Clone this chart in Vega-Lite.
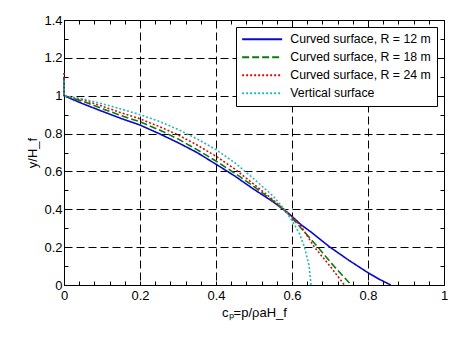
{
  "$schema": "https://vega.github.io/schema/vega-lite/v6.json",
  "width": 380,
  "height": 265,
  "autosize": {"type": "none"},
  "padding": {"left": 64, "top": 20, "right": 22, "bottom": 52},
  "background": "white",
  "config": {
    "view": {"stroke": "black", "strokeWidth": 1},
    "font": "Liberation Sans",
    "axis": {"labelFont": "Liberation Sans", "titleFont": "Liberation Sans", "labelColor": "black", "titleColor": "black", "domainColor": "black", "tickColor": "black", "titleFontWeight": "normal", "labelFontSize": 13, "titleFontSize": 13, "labelOverlap": false, "labelFlush": false}
  },
  "datasets": {
    "curves": [
      {"s": "Curved surface, R = 12 m", "i": 0, "x": 0, "y": 1.1},
      {"s": "Curved surface, R = 12 m", "i": 1, "x": 0, "y": 1.0},
      {"s": "Curved surface, R = 12 m", "i": 2, "x": 0.05, "y": 0.957},
      {"s": "Curved surface, R = 12 m", "i": 3, "x": 0.1, "y": 0.918},
      {"s": "Curved surface, R = 12 m", "i": 4, "x": 0.15, "y": 0.88},
      {"s": "Curved surface, R = 12 m", "i": 5, "x": 0.2, "y": 0.845},
      {"s": "Curved surface, R = 12 m", "i": 6, "x": 0.25, "y": 0.8},
      {"s": "Curved surface, R = 12 m", "i": 7, "x": 0.3, "y": 0.752},
      {"s": "Curved surface, R = 12 m", "i": 8, "x": 0.35, "y": 0.7},
      {"s": "Curved surface, R = 12 m", "i": 9, "x": 0.4, "y": 0.638},
      {"s": "Curved surface, R = 12 m", "i": 10, "x": 0.45, "y": 0.575},
      {"s": "Curved surface, R = 12 m", "i": 11, "x": 0.5, "y": 0.505},
      {"s": "Curved surface, R = 12 m", "i": 12, "x": 0.55, "y": 0.44},
      {"s": "Curved surface, R = 12 m", "i": 13, "x": 0.593, "y": 0.375},
      {"s": "Curved surface, R = 12 m", "i": 14, "x": 0.624, "y": 0.318},
      {"s": "Curved surface, R = 12 m", "i": 15, "x": 0.65, "y": 0.28},
      {"s": "Curved surface, R = 12 m", "i": 16, "x": 0.7, "y": 0.2},
      {"s": "Curved surface, R = 12 m", "i": 17, "x": 0.75, "y": 0.13},
      {"s": "Curved surface, R = 12 m", "i": 18, "x": 0.8, "y": 0.065},
      {"s": "Curved surface, R = 12 m", "i": 19, "x": 0.83, "y": 0.03},
      {"s": "Curved surface, R = 12 m", "i": 20, "x": 0.86, "y": 0},
      {"s": "Curved surface, R = 18 m", "i": 0, "x": 0, "y": 1.1},
      {"s": "Curved surface, R = 18 m", "i": 1, "x": 0, "y": 1.0},
      {"s": "Curved surface, R = 18 m", "i": 2, "x": 0.05, "y": 0.97},
      {"s": "Curved surface, R = 18 m", "i": 3, "x": 0.1, "y": 0.932},
      {"s": "Curved surface, R = 18 m", "i": 4, "x": 0.15, "y": 0.895},
      {"s": "Curved surface, R = 18 m", "i": 5, "x": 0.2, "y": 0.862},
      {"s": "Curved surface, R = 18 m", "i": 6, "x": 0.25, "y": 0.82},
      {"s": "Curved surface, R = 18 m", "i": 7, "x": 0.3, "y": 0.772},
      {"s": "Curved surface, R = 18 m", "i": 8, "x": 0.35, "y": 0.715},
      {"s": "Curved surface, R = 18 m", "i": 9, "x": 0.4, "y": 0.655},
      {"s": "Curved surface, R = 18 m", "i": 10, "x": 0.45, "y": 0.59},
      {"s": "Curved surface, R = 18 m", "i": 11, "x": 0.5, "y": 0.52},
      {"s": "Curved surface, R = 18 m", "i": 12, "x": 0.55, "y": 0.445},
      {"s": "Curved surface, R = 18 m", "i": 13, "x": 0.593, "y": 0.37},
      {"s": "Curved surface, R = 18 m", "i": 14, "x": 0.624, "y": 0.3},
      {"s": "Curved surface, R = 18 m", "i": 15, "x": 0.668, "y": 0.2},
      {"s": "Curved surface, R = 18 m", "i": 16, "x": 0.71, "y": 0.1},
      {"s": "Curved surface, R = 18 m", "i": 17, "x": 0.756, "y": 0},
      {"s": "Curved surface, R = 24 m", "i": 0, "x": 0, "y": 1.12},
      {"s": "Curved surface, R = 24 m", "i": 1, "x": 0, "y": 1.0},
      {"s": "Curved surface, R = 24 m", "i": 2, "x": 0.05, "y": 0.978},
      {"s": "Curved surface, R = 24 m", "i": 3, "x": 0.1, "y": 0.945},
      {"s": "Curved surface, R = 24 m", "i": 4, "x": 0.15, "y": 0.91},
      {"s": "Curved surface, R = 24 m", "i": 5, "x": 0.2, "y": 0.878},
      {"s": "Curved surface, R = 24 m", "i": 6, "x": 0.25, "y": 0.838},
      {"s": "Curved surface, R = 24 m", "i": 7, "x": 0.3, "y": 0.793},
      {"s": "Curved surface, R = 24 m", "i": 8, "x": 0.35, "y": 0.74},
      {"s": "Curved surface, R = 24 m", "i": 9, "x": 0.4, "y": 0.68},
      {"s": "Curved surface, R = 24 m", "i": 10, "x": 0.45, "y": 0.612},
      {"s": "Curved surface, R = 24 m", "i": 11, "x": 0.5, "y": 0.532},
      {"s": "Curved surface, R = 24 m", "i": 12, "x": 0.55, "y": 0.45},
      {"s": "Curved surface, R = 24 m", "i": 13, "x": 0.593, "y": 0.375},
      {"s": "Curved surface, R = 24 m", "i": 14, "x": 0.624, "y": 0.31},
      {"s": "Curved surface, R = 24 m", "i": 15, "x": 0.659, "y": 0.2},
      {"s": "Curved surface, R = 24 m", "i": 16, "x": 0.7, "y": 0.1},
      {"s": "Curved surface, R = 24 m", "i": 17, "x": 0.738, "y": 0},
      {"s": "Vertical surface", "i": 0, "x": 0, "y": 1.08},
      {"s": "Vertical surface", "i": 1, "x": 0, "y": 1.0},
      {"s": "Vertical surface", "i": 2, "x": 0.05, "y": 0.983},
      {"s": "Vertical surface", "i": 3, "x": 0.1, "y": 0.958},
      {"s": "Vertical surface", "i": 4, "x": 0.15, "y": 0.93},
      {"s": "Vertical surface", "i": 5, "x": 0.2, "y": 0.9},
      {"s": "Vertical surface", "i": 6, "x": 0.25, "y": 0.865},
      {"s": "Vertical surface", "i": 7, "x": 0.3, "y": 0.822},
      {"s": "Vertical surface", "i": 8, "x": 0.35, "y": 0.772},
      {"s": "Vertical surface", "i": 9, "x": 0.4, "y": 0.715},
      {"s": "Vertical surface", "i": 10, "x": 0.45, "y": 0.645},
      {"s": "Vertical surface", "i": 11, "x": 0.5, "y": 0.56},
      {"s": "Vertical surface", "i": 12, "x": 0.55, "y": 0.47},
      {"s": "Vertical surface", "i": 13, "x": 0.58, "y": 0.4},
      {"s": "Vertical surface", "i": 14, "x": 0.6, "y": 0.34},
      {"s": "Vertical surface", "i": 15, "x": 0.62, "y": 0.27},
      {"s": "Vertical surface", "i": 16, "x": 0.633, "y": 0.2},
      {"s": "Vertical surface", "i": 17, "x": 0.645, "y": 0.1},
      {"s": "Vertical surface", "i": 18, "x": 0.65, "y": 0}
    ]
  },
  "data": {"name": "curves"},
  "resolve": {"axis": {"x": "independent", "y": "independent"}},
  "layer": [
    {
      "mark": {"type": "line", "strokeWidth": 1.6, "clip": false},
      "encoding": {
        "x": {"field": "x", "type": "quantitative", "scale": {"domain": [0, 1], "nice": false, "zero": false},
          "axis": {"orient": "bottom", "title": "cₚ=p/ρaH_f", "titlePadding": 4,
            "values": [0, 0.04, 0.08, 0.12, 0.16, 0.2, 0.24, 0.28, 0.32, 0.36, 0.4, 0.44, 0.48, 0.52, 0.56, 0.6, 0.64, 0.68, 0.72, 0.76, 0.8, 0.84, 0.88, 0.92, 0.96, 1],
            "labelExpr": "abs(datum.value*5-round(datum.value*5))<0.000001 ? format(datum.value, '~g') : ''",
            "tickSize": -4, "labelPadding": 8,
            "grid": true, "gridColor": "black", "gridDash": [8, 4], "gridWidth": 1,
            "gridOpacity": {"condition": {"test": "abs(datum.value*5-round(datum.value*5))<0.000001", "value": 1}, "value": 0}}},
        "y": {"field": "y", "type": "quantitative", "scale": {"domain": [0, 1.4], "nice": false, "zero": false},
          "axis": {"orient": "left", "title": "y/H_f", "titlePadding": 4,
            "values": [0, 0.1, 0.2, 0.3, 0.4, 0.5, 0.6, 0.7, 0.8, 0.9, 1, 1.1, 1.2, 1.3, 1.4],
            "labelExpr": "abs(datum.value*5-round(datum.value*5))<0.000001 ? format(datum.value, '~g') : ''",
            "tickSize": -4, "labelPadding": 6,
            "grid": true, "gridColor": "black", "gridDash": [8, 4], "gridWidth": 1,
            "gridOpacity": {"condition": {"test": "abs(datum.value*5-round(datum.value*5))<0.000001", "value": 1}, "value": 0}}},
        "order": {"field": "i", "type": "quantitative"},
        "color": {"field": "s", "type": "nominal",
          "scale": {"domain": ["Curved surface, R = 12 m", "Curved surface, R = 18 m", "Curved surface, R = 24 m", "Vertical surface"],
                    "range": ["#0a0ac8", "#0c7a0c", "#d01010", "#2ab5b8"]},
          "legend": {"title": null, "orient": "top-right", "offset": 7, "padding": 6, "fillColor": "white", "strokeColor": "black",
            "cornerRadius": 0, "symbolType": "M-8,0H8", "symbolSize": 25, "symbolStrokeWidth": 2, "symbolOffset": 14,
            "labelFontSize": 12.3, "labelFont": "Liberation Sans", "labelColor": "black", "rowPadding": 5, "labelOffset": 22}},
        "strokeDash": {"field": "s", "type": "nominal",
          "scale": {"domain": ["Curved surface, R = 12 m", "Curved surface, R = 18 m", "Curved surface, R = 24 m", "Vertical surface"],
                    "range": [[1, 0], [7, 3], [2, 2], [2, 2]]},
          "legend": {"title": null}}
      }
    },
    {
      "mark": {"type": "point", "opacity": 0},
      "encoding": {
        "x": {"field": "x", "type": "quantitative",
          "axis": {"orient": "top", "title": null, "labels": false, "domain": false, "grid": false, "tickSize": -4,
            "values": [0, 0.04, 0.08, 0.12, 0.16, 0.2, 0.24, 0.28, 0.32, 0.36, 0.4, 0.44, 0.48, 0.52, 0.56, 0.6, 0.64, 0.68, 0.72, 0.76, 0.8, 0.84, 0.88, 0.92, 0.96, 1]}},
        "y": {"field": "y", "type": "quantitative",
          "axis": {"orient": "right", "title": null, "labels": false, "domain": false, "grid": false, "tickSize": -4,
            "values": [0, 0.1, 0.2, 0.3, 0.4, 0.5, 0.6, 0.7, 0.8, 0.9, 1, 1.1, 1.2, 1.3, 1.4]}}
      }
    }
  ]
}
